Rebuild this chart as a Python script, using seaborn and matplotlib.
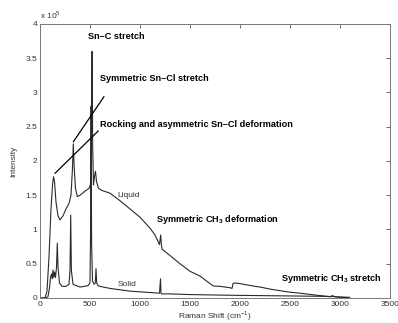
import matplotlib
matplotlib.use("Agg")
import matplotlib.pyplot as plt
import seaborn as sns
import pandas as pd

# Raman spectra (intensity in units of 1e5)
liquid_shift = [0, 50, 70, 90, 110, 125, 135, 145, 160, 180, 200, 230, 260, 290, 310, 325, 333, 342,
                355, 373, 400, 450, 490, 505, 515, 521, 527, 535, 545, 555, 565, 585, 620, 700, 800,
                900, 1000, 1100, 1150, 1195, 1207, 1213, 1222, 1240, 1300, 1400, 1500, 1600, 1700,
                1735, 1800, 1900, 1920, 1930, 1950, 2000, 2130, 2200, 2300, 2430, 2500, 2600, 2770,
                2900, 2925, 2935, 3000, 3080]
liquid_int = [0, 0, 0.1, 0.6, 1.3, 1.65, 1.77, 1.7, 1.4, 1.2, 1.14, 1.2, 1.3, 1.38, 1.5, 1.9, 2.25, 1.9,
              1.6, 1.48, 1.5, 1.56, 1.6, 1.66, 2.5, 3.6, 2.2, 1.65, 1.78, 1.85, 1.7, 1.6, 1.57, 1.53, 1.42,
              1.3, 1.18, 1.02, 0.92, 0.78, 0.92, 0.78, 0.71, 0.69, 0.62, 0.5, 0.39, 0.32, 0.21,
              0.175, 0.17, 0.15, 0.14, 0.21, 0.22, 0.21, 0.175, 0.16, 0.13, 0.1, 0.085, 0.07, 0.04,
              0.02, 0.035, 0.02, 0.01, 0.005]

solid_shift = [0, 60, 80, 95, 105, 115, 122, 130, 137, 145, 155, 165, 173, 180, 195, 220, 260, 290, 300,
               307, 314, 330, 400, 480, 500, 506, 511, 516, 525, 540, 553, 560, 567, 580, 600, 700, 800,
               900, 1000, 1100, 1195, 1205, 1210, 1215, 1225, 1300, 1500, 1700, 1900, 2200, 2500,
               2800, 2920, 2930, 2945, 3000, 3100]
solid_int = [0, 0, 0.02, 0.15, 0.3, 0.35, 0.28, 0.41, 0.3, 0.38, 0.3, 0.45, 0.8, 0.45, 0.22, 0.17, 0.17,
             0.2, 0.4, 1.21, 0.4, 0.2, 0.16, 0.18, 0.22, 1.0, 2.8, 0.8, 0.25, 0.2, 0.22, 0.43, 0.22, 0.18,
             0.17, 0.14, 0.12, 0.1, 0.09, 0.08, 0.07, 0.28, 0.07, 0.06, 0.06, 0.06, 0.05, 0.045, 0.04,
             0.035, 0.03, 0.025, 0.02, 0.03, 0.02, 0.015, 0.01]

x_ticks = [0, 500, 1000, 1500, 2000, 2500, 3000, 3500]
y_ticks = [0, 0.5, 1, 1.5, 2, 2.5, 3, 3.5, 4]
y_tick_labels = ["0", "0.5", "1", "1.5", "2", "2.5", "3", "3.5", "4"]

sns.set_style("white")
plt.rcParams["font.family"] = ["Liberation Sans", "DejaVu Sans"]
plt.rcParams["mathtext.fontset"] = "custom"
plt.rcParams["mathtext.rm"] = "Liberation Sans"
plt.rcParams["mathtext.bf"] = "Liberation Sans:bold"

liquid_df = pd.DataFrame({"shift": liquid_shift, "intensity": liquid_int})
solid_df = pd.DataFrame({"shift": solid_shift, "intensity": solid_int})

fig = plt.figure(figsize=(3.98, 3.23), dpi=100)
ax = fig.add_axes([0.1005, 0.0774, 0.8794, 0.8483])

line_col = "#2a2a2a"
sns.lineplot(data=liquid_df, x="shift", y="intensity", ax=ax, color=line_col, lw=0.8, sort=False)
sns.lineplot(data=solid_df, x="shift", y="intensity", ax=ax, color=line_col, lw=0.8, sort=False)

ax.set_xlim(0, 3500)
ax.set_ylim(0, 4)
ax.set_xticks(x_ticks)
ax.set_xticklabels([str(t) for t in x_ticks])
ax.set_yticks(y_ticks)
ax.set_yticklabels(y_tick_labels)
ax.tick_params(direction="in", length=3, width=0.6, labelsize=6, colors="#555555",
               top=True, right=True, pad=2)
ax.tick_params(labelcolor="#333333")
for s in ax.spines.values():
    s.set_color("#777777")
    s.set_linewidth(0.7)

ax.set_xlabel("Raman Shift (cm$^{-1}$)", fontsize=6, color="#333333", labelpad=1)
ax.set_ylabel("Intensity", fontsize=6, color="#333333", labelpad=6)
ax.text(0.0, 1.01, "x 10$^5$", transform=ax.transAxes, fontsize=6, color="#333333",
        ha="left", va="bottom")

# Band labels
bold = dict(fontsize=6.6, fontweight="bold", color="black")
ax.text(760, 3.82, "Sn\u2013C stretch", ha="center", va="center", **bold)
ax.text(600, 3.2, "Symmetric Sn\u2013Cl stretch", ha="left", va="center", **bold)
ax.text(600, 2.54, "Rocking and asymmetric Sn\u2013Cl deformation", ha="left", va="center", **bold)
ax.text(1160, 1.14, r"Symmetric CH$_\mathbf{3}$ deformation", ha="left", va="center", **bold)
ax.text(3420, 0.29, r"Symmetric CH$_\mathbf{3}$ stretch", ha="right", va="center", **bold)
ax.text(890, 1.5, "Liquid", ha="center", va="center", fontsize=6, color="#333333")
ax.text(870, 0.19, "Solid", ha="center", va="center", fontsize=6, color="#333333")

# Leader lines
ax.annotate("", xy=(333, 2.28), xytext=(640, 2.94),
            arrowprops=dict(arrowstyle="-", color="black", lw=0.9, shrinkA=0, shrinkB=0))
ax.annotate("", xy=(150, 1.82), xytext=(583, 2.44),
            arrowprops=dict(arrowstyle="-", color="black", lw=0.9, shrinkA=0, shrinkB=0))

fig.savefig("out.png", dpi=100)
